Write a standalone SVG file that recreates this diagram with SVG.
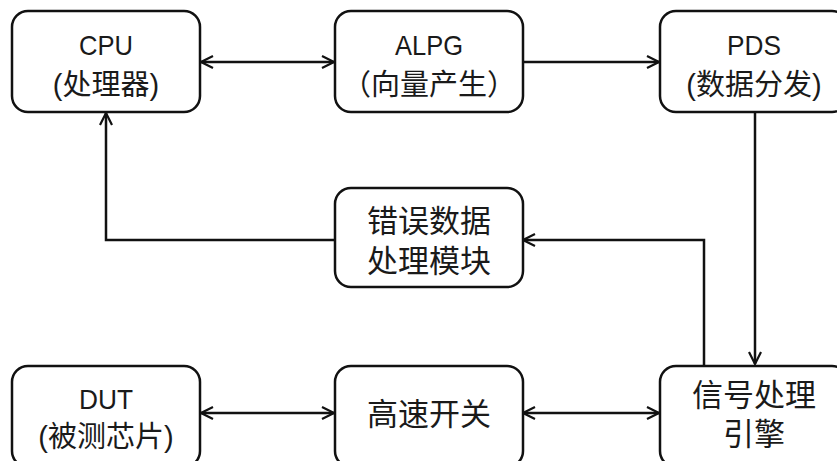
<svg xmlns="http://www.w3.org/2000/svg" width="837" height="461" viewBox="0 0 837 461">
<defs>
<marker id="ah" viewBox="0 0 14 14" refX="13" refY="7" markerWidth="14" markerHeight="14" markerUnits="userSpaceOnUse" orient="auto-start-reverse">
<path d="M1,1 L13,7 L1,13" fill="none" stroke="#111" stroke-width="2.2"/>
</marker>
<style>
.box{fill:#fff;stroke:#111;stroke-width:2.5}
.t{font-family:"Liberation Sans","Noto Sans CJK SC",sans-serif;fill:#1a1a1a;text-anchor:middle}
.en{font-size:28px}
.cn{font-size:29px}
.big{font-size:31px}
.ln{fill:none;stroke:#111;stroke-width:2.5}
</style>
</defs>
<rect width="837" height="461" fill="#fff"/>
<g id="connectors">
<path class="ln" d="M201,62 H334" marker-start="url(#ah)" marker-end="url(#ah)"/>
<path class="ln" d="M523,62 H659" marker-end="url(#ah)"/>
<path class="ln" d="M755,112 V364" marker-end="url(#ah)"/>
<path class="ln" d="M704,365 V240 H523" marker-end="url(#ah)"/>
<path class="ln" d="M335,240 H106 V113" marker-end="url(#ah)"/>
<path class="ln" d="M201,413 H334" marker-start="url(#ah)" marker-end="url(#ah)"/>
<path class="ln" d="M523,413 H659" marker-start="url(#ah)" marker-end="url(#ah)"/>
</g>
<g id="cpu">
<rect class="box" x="12" y="11" width="188" height="101" rx="16"/>
<text class="t en" x="106" y="55" textLength="54" lengthAdjust="spacingAndGlyphs">CPU</text>
<text class="t cn" x="106" y="95">(处理器)</text>
</g>
<g id="alpg">
<rect class="box" x="335" y="11" width="188" height="101" rx="16"/>
<text class="t en" x="429" y="55" textLength="68" lengthAdjust="spacingAndGlyphs">ALPG</text>
<text class="t cn" x="429" y="95">（向量产生）</text>
</g>
<g id="pds">
<rect class="box" x="660" y="11" width="188" height="101" rx="16"/>
<text class="t en" x="754" y="55" textLength="54" lengthAdjust="spacingAndGlyphs">PDS</text>
<text class="t cn" x="754" y="95">(数据分发)</text>
</g>
<g id="error">
<rect class="box" x="335" y="188" width="188" height="99" rx="16"/>
<text class="t big" x="429" y="232">错误数据</text>
<text class="t big" x="429" y="272">处理模块</text>
</g>
<g id="dut">
<rect class="box" x="12" y="366" width="188" height="101" rx="16"/>
<text class="t en" x="106" y="409" textLength="54" lengthAdjust="spacingAndGlyphs">DUT</text>
<text class="t cn" x="106" y="447">(被测芯片)</text>
</g>
<g id="switch">
<rect class="box" x="335" y="366" width="188" height="101" rx="16"/>
<text class="t big" x="429" y="425">高速开关</text>
</g>
<g id="engine">
<rect class="box" x="660" y="366" width="188" height="101" rx="16"/>
<text class="t big" x="754" y="406">信号处理</text>
<text class="t big" x="754" y="445">引擎</text>
</g>
</svg>
